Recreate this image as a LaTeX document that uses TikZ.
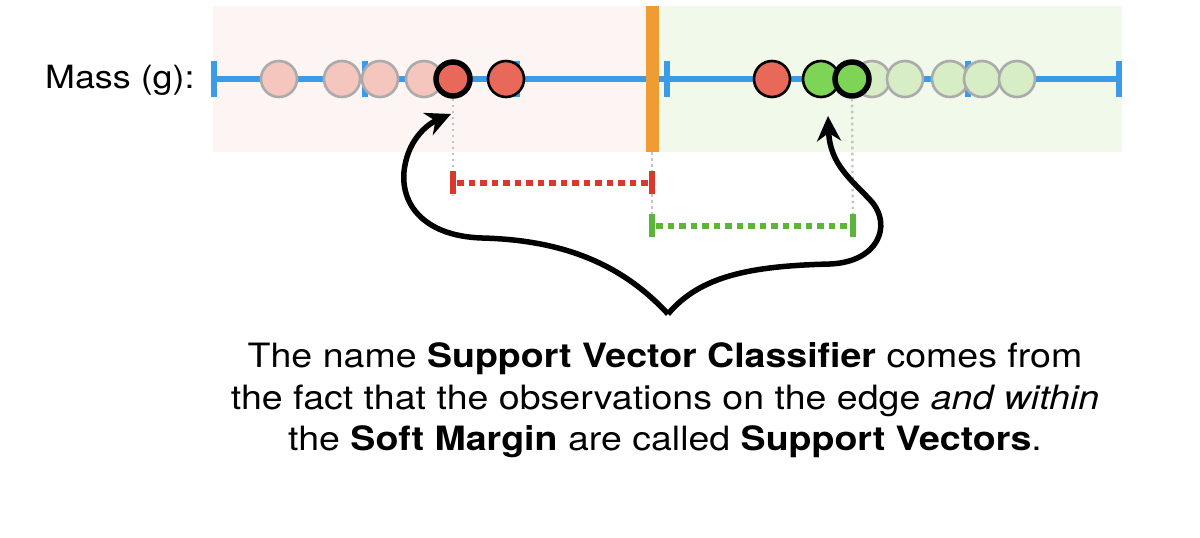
\documentclass[tikz,border=0pt]{standalone}
\usepackage{fontspec}
\setmainfont{TeX Gyre Heros}[FakeStretch=1.12]
\usetikzlibrary{arrows.meta}
\definecolor{pinkbg}{HTML}{FDF5F3}
\definecolor{greenbg}{HTML}{F1F9EB}
\definecolor{axisblue}{HTML}{3C9BE8}
\definecolor{orangebar}{HTML}{EF9D33}
\definecolor{palered}{HTML}{F5C6BE}
\definecolor{redpt}{HTML}{E8695A}
\definecolor{greenpt}{HTML}{7DD456}
\definecolor{palegreen}{HTML}{D6EDC6}
\definecolor{ringgray}{HTML}{ABABAB}
\definecolor{dotgray}{HTML}{C4C4C4}
\definecolor{reddash}{HTML}{D9392C}
\definecolor{greendash}{HTML}{5BB53A}
\tikzset{
  pt/.style={circle, minimum size=36pt, inner sep=0pt, line width=2.6pt},
  palepink/.style={pt, fill=palered, draw=ringgray},
  palegrn/.style={pt, fill=palegreen, draw=ringgray},
  redobs/.style={pt, fill=redpt, draw=black},
  greenobs/.style={pt, fill=greenpt, draw=black},
  boldring/.style={line width=5.5pt, minimum size=34pt},
  axistick/.style={draw=axisblue, line width=5.5pt},
  guide/.style={draw=dotgray, line width=2.4pt, dash pattern=on 2.5pt off 3.5pt},
  marginbar/.style={line width=6.5pt, dash pattern=on 6.5pt off 5pt},
  marginend/.style={line width=5.5pt},
  bigarrow/.style={line width=5.5pt, -{Stealth[length=25pt, width=24pt, inset=8pt]}},
  txt/.style={font=\fontsize{33.5}{42}\selectfont, inner sep=0pt, anchor=base}
}
\begin{document}
\begin{tikzpicture}[x=1pt, y=-1pt]
\useasboundingbox (0,0) rectangle (1200,538);
\fill[white] (0,0) rectangle (1200,538);
% backgrounds
\fill[pinkbg] (213,6) rectangle (652,152);
\fill[greenbg] (656,6) rectangle (1122,152);
% axis
\coordinate (axL) at (214,79);
\coordinate (axR) at (1119,79);
\draw[axistick] (axL) -- (axR);
\foreach \x in {214,365,517,667,968,1119} {
  \draw[axistick] (\x,61) -- (\x,97);
}
% orange classifier bar
\fill[orangebar] (646,6) rectangle (659,152);
\node[txt, anchor=base west, font=\fontsize{32}{40}\selectfont] (mass) at (45,88) {Mass (g):};
% left observations
\node[palepink] (p1) at (279,79) {};
\node[palepink] (p2) at (342,79) {};
\node[palepink] (p3) at (380,79) {};
\node[palepink] (p4) at (424,79) {};
\node[redobs, boldring] (r1) at (453,79) {};
\node[redobs] (r2) at (506,79) {};
% right observations
\node[redobs] (r3) at (772,79) {};
\node[palegrn] (g3) at (872,79) {};
\node[palegrn] (g4) at (905,79) {};
\node[palegrn] (g5) at (950,79) {};
\node[palegrn] (g6) at (982,79) {};
\node[palegrn] (g7) at (1017,79) {};
\node[greenobs] (g1) at (821,79) {};
\node[greenobs, boldring] (g2) at (852,79) {};
% guides
\coordinate (bar) at (652,152);
\coordinate (rL) at (453,183);
\coordinate (rR) at (652,183);
\coordinate (gL) at (652,226);
\coordinate (gR) at (853,226);
\coordinate (barlow) at (652,236);
\coordinate (gdrop) at (853,236);
\coordinate (rdrop) at (453,195);
\draw[guide] (r1.south) -- (rdrop);
\draw[guide] (bar) -- (barlow);
\draw[guide] (g2.south) -- (gdrop);
% margins
\draw[reddash, marginbar] ([xshift=4pt]rL) -- (rR);
\draw[reddash, marginend] ([yshift=-11pt]rL) -- ([yshift=12pt]rL);
\draw[reddash, marginend] ([yshift=-11pt]rR) -- ([yshift=12pt]rR);
\draw[greendash, marginbar] ([xshift=4pt]gL) -- (gR);
\draw[greendash, marginend] ([yshift=-11pt]gL) -- ([yshift=12pt]gL);
\draw[greendash, marginend] ([yshift=-11pt]gR) -- ([yshift=12pt]gR);
% brace arrows
\coordinate (brace) at (668,314);
\coordinate (tipL) at (451,114);
\coordinate (tipR) at (828,116);
\draw[bigarrow] (brace) .. controls (620,262) and (560,240) .. (482,238)
  .. controls (420,236) and (398,200) .. (405,165)
  .. controls (410,138) and (428,124) .. (tipL);
\draw[bigarrow] (brace) .. controls (700,276) and (750,266) .. (830,264)
  .. controls (878,262) and (892,226) .. (872,202)
  .. controls (852,180) and (830,165) .. (tipR);
% caption
\node[txt] (l1) at (665,367) {The name \textbf{Support Vector Classifier} comes from};
\node[txt] (l2) at (665,409) {the fact that the observations on the edge \textit{and within}};
\node[txt] (l3) at (665,450) {the \textbf{Soft Margin} are called \textbf{Support Vectors}.};
\end{tikzpicture}
\end{document}
